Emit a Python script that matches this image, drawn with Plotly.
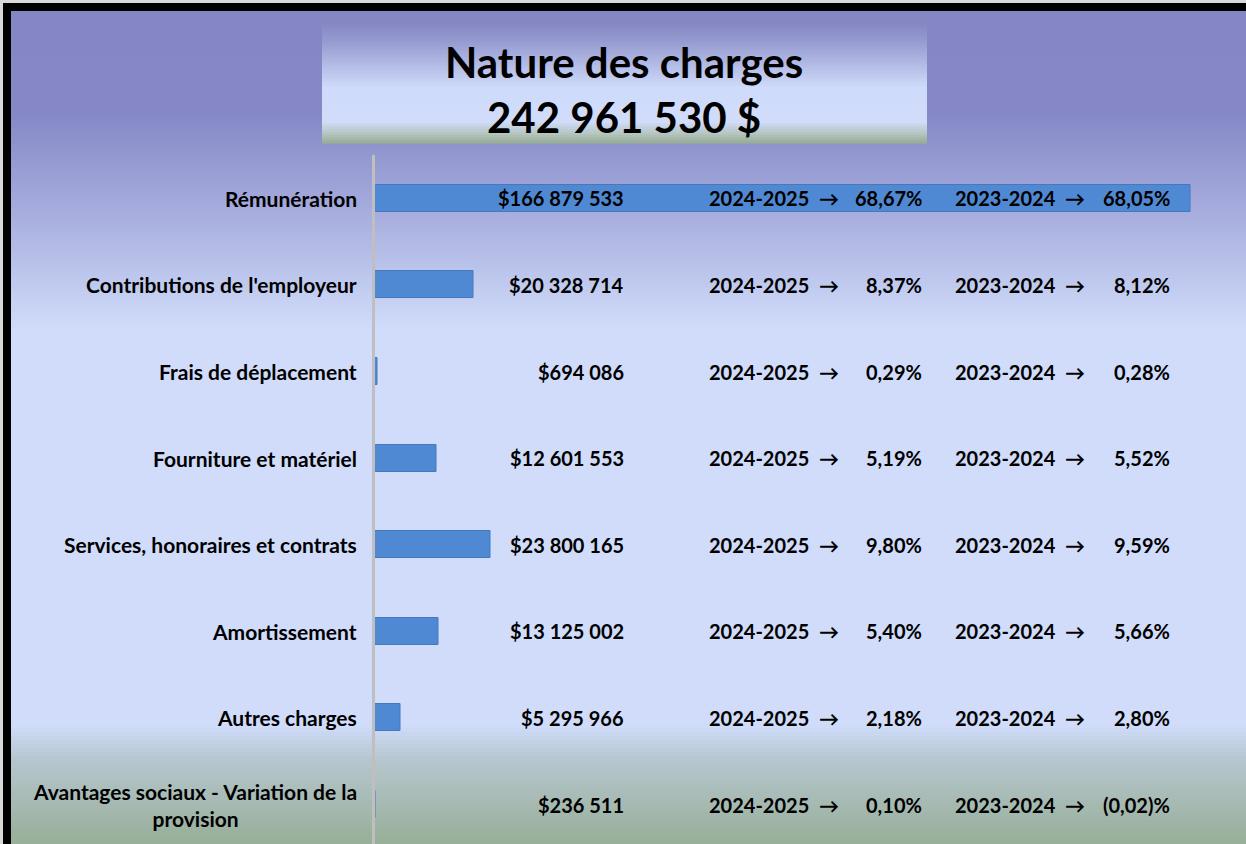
import plotly.graph_objects as go

# ---------------- data ----------------
categories = [
    "Rémunération",
    "Contributions de l'employeur",
    "Frais de déplacement",
    "Fourniture et matériel",
    "Services, honoraires et contrats",
    "Amortissement",
    "Autres charges",
    "Avantages sociaux - Variation de la<br>provision",
]
values = [166879533, 20328714, 694086, 12601553, 23800165, 13125002, 5295966, 236511]
pct_2024_2025 = ["68,67%", "8,37%", "0,29%", "5,19%", "9,80%", "5,40%", "2,18%", "0,10%"]
pct_2023_2024 = ["68,05%", "8,12%", "0,28%", "5,52%", "9,59%", "5,66%", "2,80%", "(0,02)%"]
period_new = "2024-2025"
period_old = "2023-2024"
title_line1 = "Nature des charges"
title_line2 = "242 961 530 $"

W, H = 1246, 844
FONT = "Lato, 'DejaVu Sans', sans-serif"


def fmt_money(v):
    return "$" + f"{v:,}".replace(",", " ")


def hex2rgb(h):
    h = h.lstrip("#")
    return tuple(int(h[i:i + 2], 16) for i in (0, 2, 4))


def color_at(y, stops):
    for (ya, ca), (yb, cb) in zip(stops[:-1], stops[1:]):
        if ya <= y <= yb:
            t = 0 if yb == ya else (y - ya) / (yb - ya)
            a, b = hex2rgb(ca), hex2rgb(cb)
            return "rgb(%d,%d,%d)" % tuple(round(a[k] + (b[k] - a[k]) * t) for k in range(3))
    return "rgb(%d,%d,%d)" % hex2rgb(stops[-1][1])


def gradient_shapes(x0, x1, y0, y1, stops, step=3):
    shapes = []
    y = y0
    while y < y1:
        yb = min(y + step, y1)
        shapes.append(dict(
            type="rect", xref="paper", yref="paper", layer="below",
            x0=x0 / W, x1=x1 / W, y0=1 - (yb + 0.6) / H, y1=1 - y / H,
            line=dict(width=0), fillcolor=color_at((y + yb) / 2, stops)))
        y = yb
    return shapes


bg_stops = [(0, "#8487C4"), (115, "#8588C5"), (200, "#A2A8DA"), (330, "#D0DCFA"),
            (725, "#D0DCFA"), (760, "#B6C6CE"), (844, "#97AE98")]
title_stops = [(23, "#8487C4"), (40, "#9499CF"), (88, "#CFDBFA"), (122, "#D0DCFA"),
               (134, "#B4C4BE"), (143, "#96AC93")]

shapes = []
shapes += gradient_shapes(0, W, 0, H, bg_stops, step=4)
shapes += gradient_shapes(322, 927, 23, 143, title_stops, step=2)
# thin grey edge and black frame (top and left)
shapes.append(dict(type="rect", xref="paper", yref="paper", layer="below",
                   x0=0, x1=1.01, y0=1 - 3 / H, y1=1.01,
                   line=dict(width=0), fillcolor="#D9D9D9"))
shapes.append(dict(type="rect", xref="paper", yref="paper", layer="below",
                   x0=0, x1=3 / W, y0=-0.01, y1=1.01,
                   line=dict(width=0), fillcolor="#D9D9D9"))
shapes.append(dict(type="rect", xref="paper", yref="paper", layer="below",
                   x0=3 / W, x1=1.01, y0=1 - 11 / H, y1=1 - 3 / H,
                   line=dict(width=0), fillcolor="black"))
shapes.append(dict(type="rect", xref="paper", yref="paper", layer="below",
                   x0=3 / W, x1=11 / W, y0=-0.01, y1=1 - 3 / H,
                   line=dict(width=0), fillcolor="black"))

fig = go.Figure()
fig.add_trace(go.Bar(
    x=values, y=list(range(len(categories))), orientation="h", width=0.31,
    marker=dict(color="#5089D3", line=dict(color="#4479C0", width=1)),
    hoverinfo="skip",
))

annotations = []
cat_font = dict(family=FONT, size=21, color="black")
num_font = dict(family=FONT, size=20, color="black")
for i, cat in enumerate(categories):
    annotations.append(dict(xref="paper", yref="y", x=359 / W, y=i, text="<b>%s</b>" % cat,
                            xanchor="right", yanchor="middle", align="center", showarrow=False,
                            font=cat_font))
    annotations.append(dict(xref="paper", yref="y", x=626 / W, y=i, text="<b>%s</b>" % fmt_money(values[i]),
                            xanchor="right", yanchor="middle", showarrow=False, font=num_font))
    annotations.append(dict(xref="paper", yref="y", x=707 / W, y=i, text="<b>%s  →</b>" % period_new,
                            xanchor="left", yanchor="middle", showarrow=False, font=num_font))
    annotations.append(dict(xref="paper", yref="y", x=924 / W, y=i, text="<b>%s</b>" % pct_2024_2025[i],
                            xanchor="right", yanchor="middle", showarrow=False, font=num_font))
    annotations.append(dict(xref="paper", yref="y", x=953 / W, y=i, text="<b>%s  →</b>" % period_old,
                            xanchor="left", yanchor="middle", showarrow=False, font=num_font))
    annotations.append(dict(xref="paper", yref="y", x=1172 / W, y=i, text="<b>%s</b>" % pct_2023_2024[i],
                            xanchor="right", yanchor="middle", showarrow=False, font=num_font))

annotations.append(dict(xref="paper", yref="paper", x=624 / W, y=1 - 62 / H, text="<b>%s</b>" % title_line1,
                        xanchor="center", yanchor="middle", showarrow=False,
                        font=dict(family=FONT, size=42, color="black")))
annotations.append(dict(xref="paper", yref="paper", x=624 / W, y=1 - 117 / H, text="<b>%s</b>" % title_line2,
                        xanchor="center", yanchor="middle", showarrow=False,
                        font=dict(family=FONT, size=42, color="black")))

x_max = values[0] * (W - 374.5) / (1190 - 374.5)
fig.update_layout(
    width=W, height=H, margin=dict(l=0, r=0, t=0, b=0),
    paper_bgcolor="white", plot_bgcolor="rgba(0,0,0,0)",
    showlegend=False, shapes=shapes, annotations=annotations,
    xaxis=dict(domain=[374.5 / W, 1], range=[0, x_max], visible=False, fixedrange=True),
    yaxis=dict(domain=[0, (H - 155) / H], range=[7.456, -0.5], showticklabels=False,
               showgrid=False, zeroline=False, showline=True, linecolor="#BFBFBF",
               linewidth=3, ticks="", fixedrange=True),
    bargap=0,
)

fig.write_html("out.html", config={"displayModeBar": False},
               post_script="document.body.style.margin='0px';document.body.style.overflow='hidden';")
